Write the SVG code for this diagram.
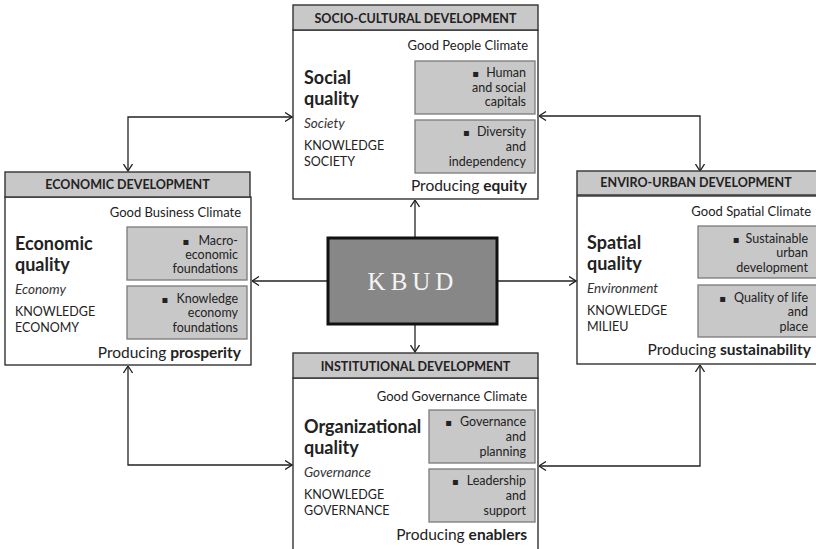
<svg xmlns="http://www.w3.org/2000/svg" width="816" height="549" viewBox="0 0 816 549">
  <defs>
    <marker id="chev" viewBox="0 0 8 10" refX="7.5" refY="5" markerWidth="8" markerHeight="10" markerUnits="userSpaceOnUse" orient="auto-start-reverse">
      <path d="M0.5,0.5 L7.5,5 L0.5,9.5" fill="none" stroke="#222" stroke-width="1.3"/>
    </marker>
    <style>
      .hdr { fill: #c8c8c8; stroke: #333; stroke-width: 1.4; }
      .body { fill: #fff; stroke: #222; stroke-width: 1.3; }
      .inner { fill: #c8c8c8; stroke: #7a7a7a; stroke-width: 1.3; }
      text { font-family: Lato, "Open Sans", "Liberation Sans", sans-serif; fill: #222; }
      .htxt { font-size: 12.5px; font-weight: bold; text-anchor: middle; }
      .clim { font-size: 13px; text-anchor: end; }
      .qual { font-size: 18px; font-weight: bold; }
      .ital { font-size: 13.5px; font-style: italic; fill: #333; }
      .know { font-size: 12.5px; }
      .prod { font-size: 15.5px; text-anchor: end; }
      .itm { font-size: 12.5px; text-anchor: end; }
      .blt { font-family: "DejaVu Sans", sans-serif; font-size: 10px; }
      .conn { fill: none; stroke: #222; stroke-width: 1.3; marker-start: url(#chev); marker-end: url(#chev); }
      .out { fill: none; stroke: #222; stroke-width: 1.3; marker-end: url(#chev); }
    </style>
  </defs>

  <!-- connectors -->
  <g id="connectors">
    <line class="out" x1="415" y1="238" x2="415" y2="200"/>
    <line class="out" x1="328" y1="281" x2="252" y2="281"/>
    <line class="out" x1="497" y1="281" x2="576" y2="281"/>
    <line class="out" x1="415" y1="324" x2="415" y2="352"/>
    <path class="conn" d="M292,117 H128 V171"/>
    <path class="conn" d="M539,116 H700 V171"/>
    <path class="conn" d="M128,366 V465 H292"/>
    <path class="conn" d="M700,365 V466 H539"/>
  </g>

  <!-- socio-cultural development -->
  <g id="socio-cultural">
    <rect class="body" x="293" y="30" width="245" height="169"/>
    <rect class="hdr" x="293" y="5" width="245" height="25"/>
    <text class="htxt" x="415.5" y="23">SOCIO-CULTURAL DEVELOPMENT</text>
    <text class="clim" x="528" y="50">Good People Climate</text>
    <text class="qual" x="304" y="84">Social</text>
    <text class="qual" x="304" y="105">quality</text>
    <text class="ital" x="304" y="128">Society</text>
    <text class="know" x="304" y="150">KNOWLEDGE</text>
    <text class="know" x="304" y="166">SOCIETY</text>
    <rect class="inner" x="415" y="61" width="120" height="53"/>
    <text class="itm" x="526" y="77"><tspan class="blt">▪</tspan><tspan dx="7">Human</tspan></text>
    <text class="itm" x="526" y="92">and social</text>
    <text class="itm" x="526" y="106">capitals</text>
    <rect class="inner" x="415" y="120" width="120" height="53"/>
    <text class="itm" x="526" y="136"><tspan class="blt">▪</tspan><tspan dx="7">Diversity</tspan></text>
    <text class="itm" x="526" y="151">and</text>
    <text class="itm" x="526" y="166">independency</text>
    <text class="prod" x="527" y="191">Producing <tspan font-weight="bold">equity</tspan></text>
  </g>

  <!-- economic development -->
  <g id="economic">
    <rect class="body" x="5" y="197" width="246" height="168"/>
    <rect class="hdr" x="5" y="172" width="245" height="25"/>
    <text class="htxt" x="127.5" y="189">ECONOMIC DEVELOPMENT</text>
    <text class="clim" x="241" y="217">Good Business Climate</text>
    <text class="qual" x="15" y="250">Economic</text>
    <text class="qual" x="15" y="271">quality</text>
    <text class="ital" x="15" y="294">Economy</text>
    <text class="know" x="15" y="316">KNOWLEDGE</text>
    <text class="know" x="15" y="332">ECONOMY</text>
    <rect class="inner" x="127" y="227" width="120" height="53"/>
    <text class="itm" x="238" y="245"><tspan class="blt">▪</tspan><tspan dx="9">Macro-</tspan></text>
    <text class="itm" x="238" y="259">economic</text>
    <text class="itm" x="238" y="273">foundations</text>
    <rect class="inner" x="127" y="286" width="120" height="53"/>
    <text class="itm" x="238" y="303"><tspan class="blt">▪</tspan><tspan dx="8">Knowledge</tspan></text>
    <text class="itm" x="238" y="317">economy</text>
    <text class="itm" x="238" y="332">foundations</text>
    <text class="prod" x="241" y="358">Producing <tspan font-weight="bold">prosperity</tspan></text>
  </g>

  <!-- enviro-urban development -->
  <g id="enviro-urban">
    <rect class="body" x="577" y="196" width="240" height="168"/>
    <rect class="hdr" x="577" y="171" width="240" height="24"/>
    <text class="htxt" x="696" y="187">ENVIRO-URBAN DEVELOPMENT</text>
    <text class="clim" x="811" y="216">Good Spatial Climate</text>
    <text class="qual" x="587" y="249">Spatial</text>
    <text class="qual" x="587" y="270">quality</text>
    <text class="ital" x="587" y="293">Environment</text>
    <text class="know" x="587" y="315">KNOWLEDGE</text>
    <text class="know" x="587" y="331">MILIEU</text>
    <rect class="inner" x="698" y="226" width="120" height="52"/>
    <text class="itm" x="808" y="243"><tspan class="blt">▪</tspan><tspan dx="6">Sustainable</tspan></text>
    <text class="itm" x="808" y="257">urban</text>
    <text class="itm" x="808" y="272">development</text>
    <rect class="inner" x="698" y="285" width="120" height="52"/>
    <text class="itm" x="808" y="302"><tspan class="blt">▪</tspan><tspan dx="8">Quality of life</tspan></text>
    <text class="itm" x="808" y="316">and</text>
    <text class="itm" x="808" y="331">place</text>
    <text class="prod" x="811" y="355">Producing <tspan font-weight="bold">sustainability</tspan></text>
  </g>

  <!-- institutional development -->
  <g id="institutional">
    <rect class="body" x="293" y="378" width="245" height="180"/>
    <rect class="hdr" x="293" y="353" width="245" height="25"/>
    <text class="htxt" x="415.5" y="371">INSTITUTIONAL DEVELOPMENT</text>
    <text class="clim" x="527" y="401">Good Governance Climate</text>
    <text class="qual" x="304" y="433">Organizational</text>
    <text class="qual" x="304" y="454">quality</text>
    <text class="ital" x="304" y="477">Governance</text>
    <text class="know" x="304" y="499">KNOWLEDGE</text>
    <text class="know" x="304" y="515">GOVERNANCE</text>
    <rect class="inner" x="429" y="410" width="106" height="53"/>
    <text class="itm" x="526" y="426"><tspan class="blt">▪</tspan><tspan dx="8">Governance</tspan></text>
    <text class="itm" x="526" y="441">and</text>
    <text class="itm" x="526" y="456">planning</text>
    <rect class="inner" x="429" y="469" width="106" height="53"/>
    <text class="itm" x="526" y="485"><tspan class="blt">▪</tspan><tspan dx="8">Leadership</tspan></text>
    <text class="itm" x="526" y="500">and</text>
    <text class="itm" x="526" y="515">support</text>
    <text class="prod" x="527" y="540">Producing <tspan font-weight="bold">enablers</tspan></text>
  </g>

  <!-- central KBUD node -->
  <g id="kbud">
    <rect x="328" y="238" width="169" height="86" fill="#878787" stroke="#111" stroke-width="3"/>
    <text x="413" y="290" text-anchor="middle" font-size="25" letter-spacing="5" style="fill:#f4f4f4;font-family:'Liberation Serif',serif">KBUD</text>
  </g>
</svg>
